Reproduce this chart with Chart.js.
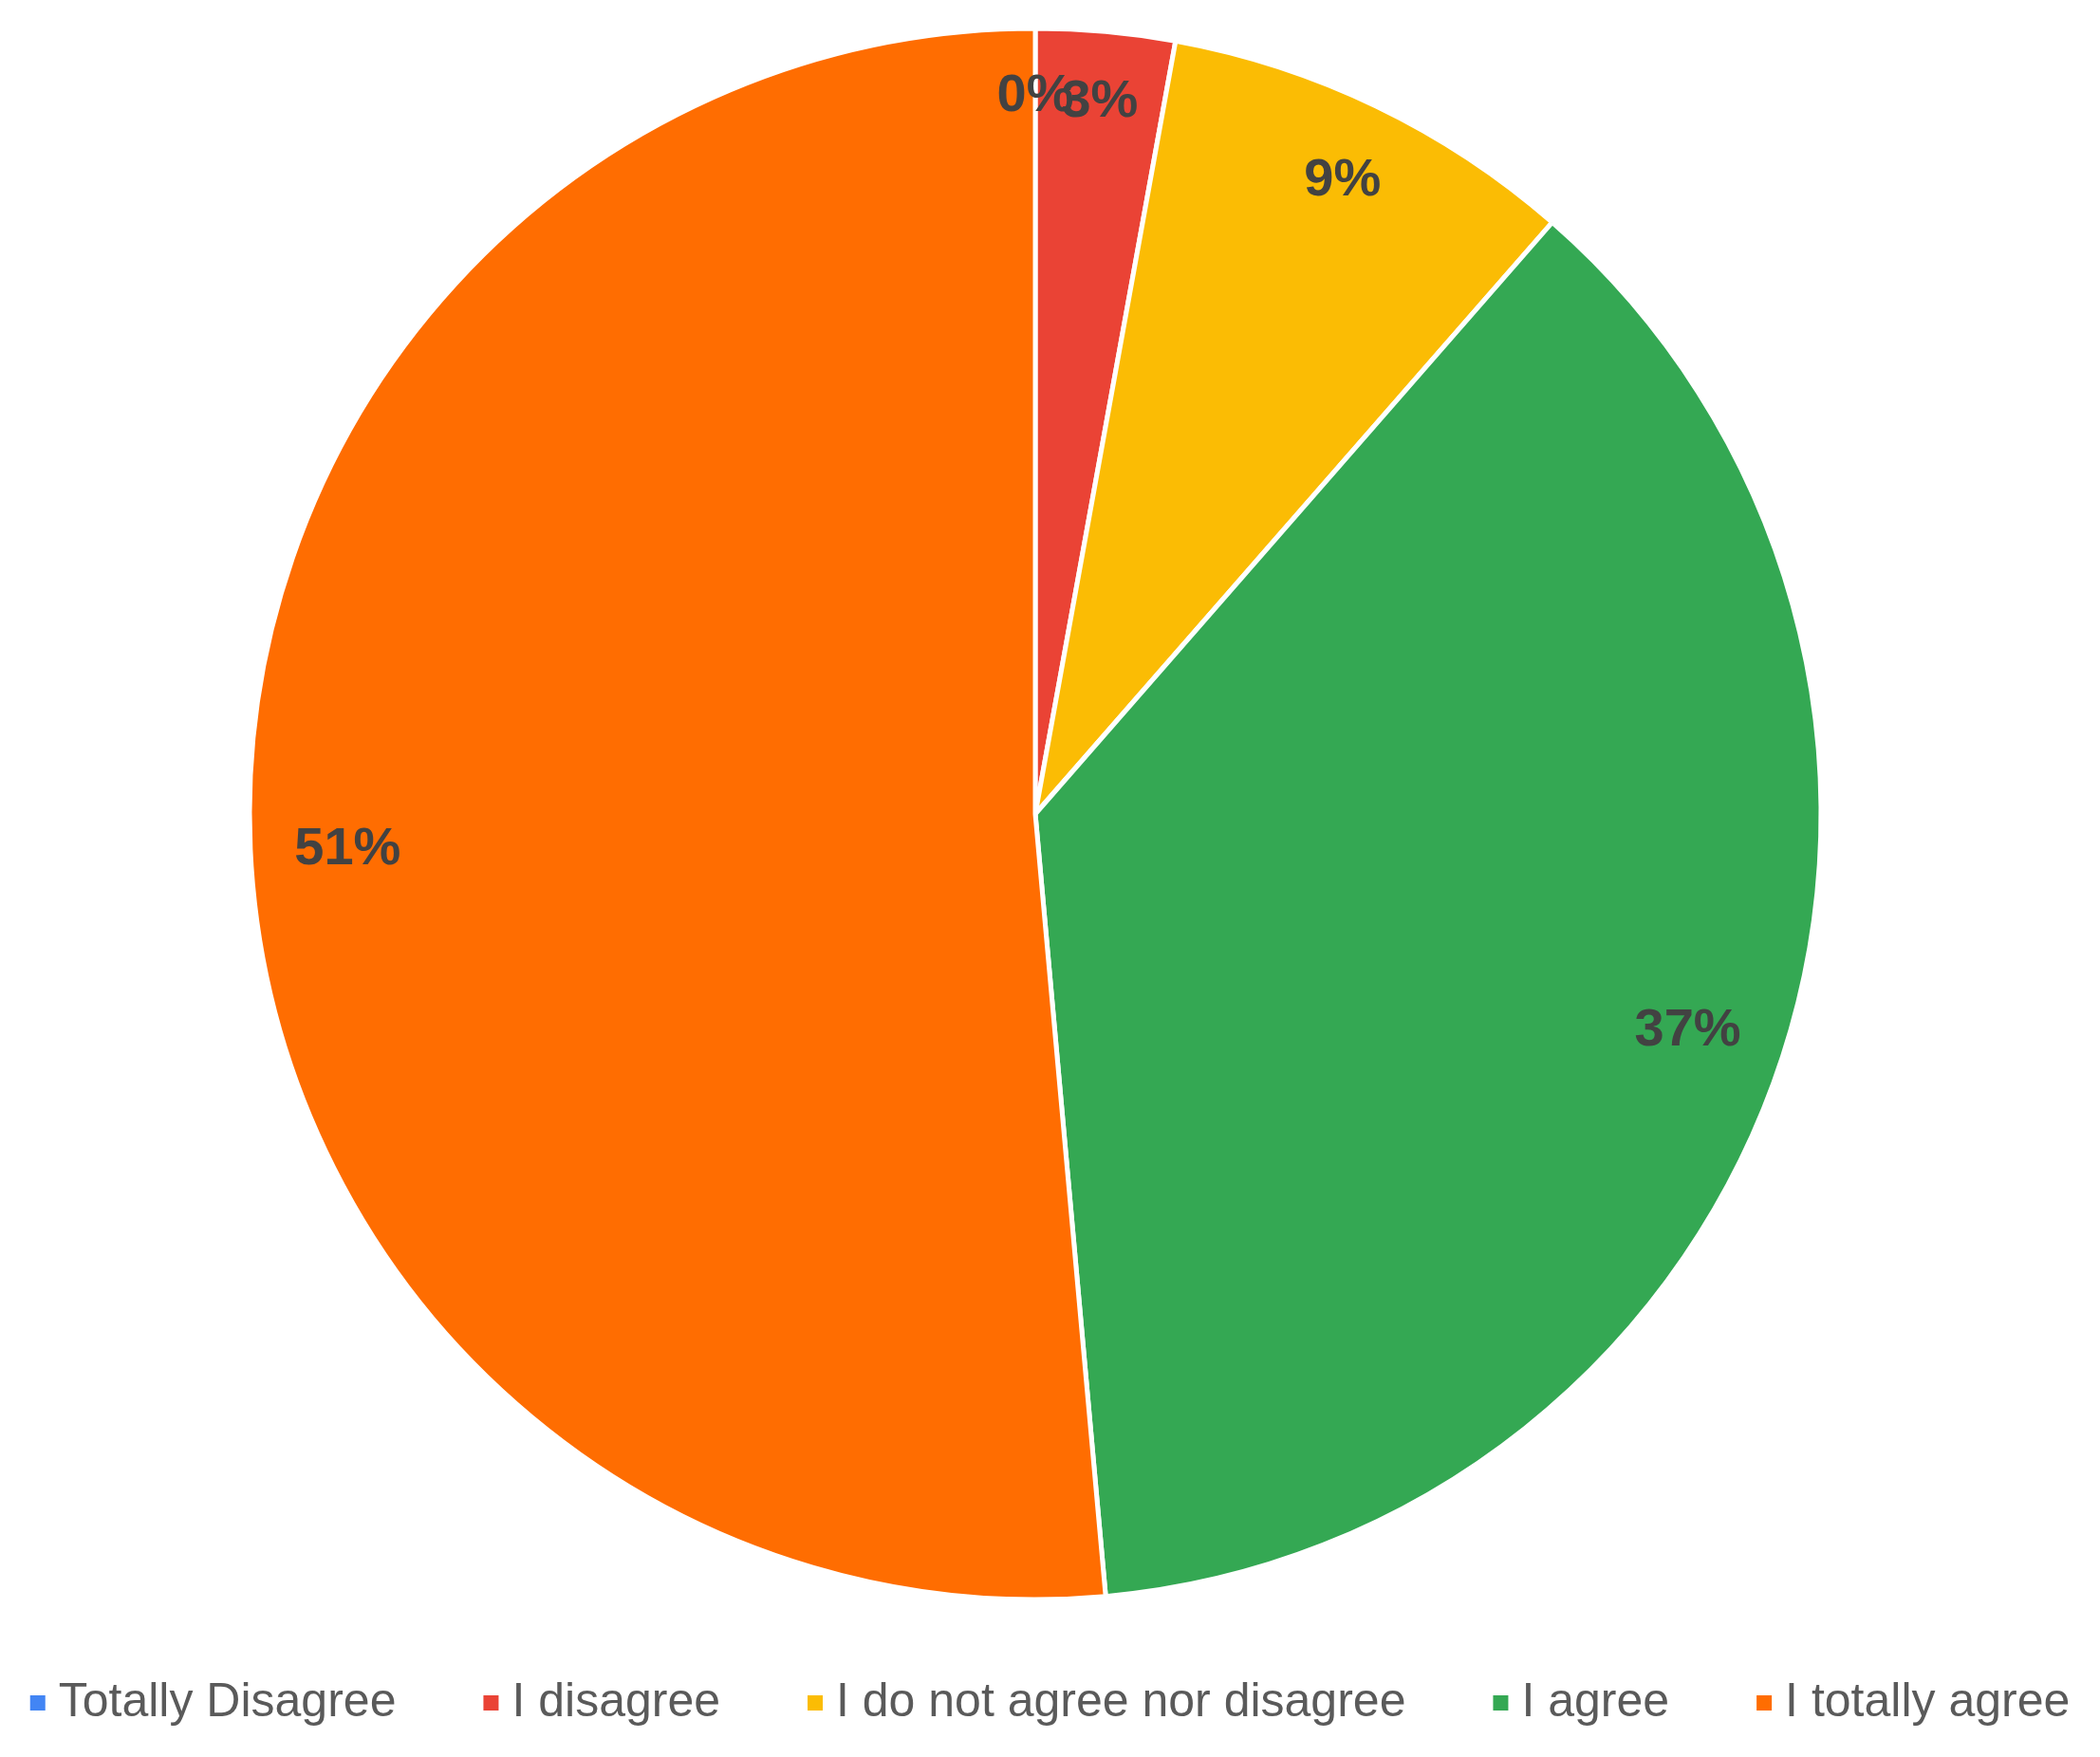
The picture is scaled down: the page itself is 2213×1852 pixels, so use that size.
<!DOCTYPE html>
<html>
<head>
<meta charset="utf-8">
<title>Survey answers</title>
<script src="https://cdn.jsdelivr.net/npm/chart.js@4.4.1/dist/chart.umd.min.js"></script>
<style>
  html, body { margin: 0; padding: 0; background: #fff; }
  #wrap { width: 2213px; height: 1852px; position: relative; }
</style>
</head>
<body>
<div id="wrap"><canvas id="pieChart"></canvas></div>
<script>
const answers = ["Totally Disagree", "I disagree", "I do not agree nor disagree", "I agree", "I totally agree"];
const responses = [0, 1, 3, 13, 18];
const sliceColors = ["#4285f4", "#ea4335", "#fbbc04", "#34a853", "#ff6d01"];

const FONT = "'Liberation Sans', Arial, sans-serif";

// percent labels: pushed out along the slice middle until the far corner
// of the text sits just inside the rim
const percentLabels = {
    id: "percentLabels",
    afterDatasetsDraw(chart) {
        const { ctx } = chart;
        const meta = chart.getDatasetMeta(0);
        const values = chart.data.datasets[0].data;
        const total = values.reduce((a, b) => a + b, 0);
        const size = 56;
        ctx.save();
        ctx.font = `bold ${size}px ${FONT}`;
        ctx.fillStyle = "#424242";
        ctx.textAlign = "center";
        ctx.textBaseline = "alphabetic";
        meta.data.forEach((arc, i) => {
            const { x, y, startAngle, endAngle, outerRadius } =
                arc.getProps(["x", "y", "startAngle", "endAngle", "outerRadius"], true);
            const text = Math.round((values[i] / total) * 100) + "%";
            const w = ctx.measureText(text).width;
            const h = size * 0.72;
            const mid = (startAngle + endAngle) / 2;
            const dx = Math.cos(mid);
            const dy = Math.sin(mid);
            const reach = outerRadius * 0.945;
            const b = Math.abs(dx) * w + Math.abs(dy) * h;
            const c = (w * w + h * h) / 4 - reach * reach;
            const d = (-b + Math.sqrt(b * b - 4 * c)) / 2;
            ctx.fillText(text, x + dx * d, y + dy * d + h / 2);
        });
        ctx.restore();
    },
};

// one-row legend under the pie
const bottomLegend = {
    id: "bottomLegend",
    afterDraw(chart) {
        const { ctx } = chart;
        const size = 50;
        const box = 16;
        const toText = 30;
        const gap = 92;
        ctx.save();
        ctx.font = `${size}px ${FONT}`;
        const widths = chart.data.labels.map((t) => ctx.measureText(t).width);
        const total = widths.reduce((a, b) => a + b, 0) +
            widths.length * toText + (widths.length - 1) * gap;
        let x = (chart.width - total) / 2;
        const y = chart.height - 57;
        ctx.textBaseline = "middle";
        chart.data.labels.forEach((label, i) => {
            ctx.fillStyle = chart.data.datasets[0].backgroundColor[i];
            ctx.fillRect(x, y - box / 2, box, box);
            ctx.fillStyle = "#5a5a5a";
            ctx.fillText(label, x + toText, y);
            x += toText + widths[i] + gap;
        });
        ctx.restore();
    },
};

new Chart(document.getElementById("pieChart"), {
    type: "pie",
    data: {
        labels: answers,
        datasets: [
            {
                data: responses,
                backgroundColor: sliceColors,
                borderColor: "#ffffff",
                borderWidth: 5,
                radius: 828,
                clip: false,
            },
        ],
    },
    options: {
        responsive: true,
        maintainAspectRatio: false,
        animation: false,
        layout: { padding: { top: 32, bottom: 168, left: 0, right: 31 } },
        plugins: {
            legend: { display: false },
            tooltip: { enabled: false },
        },
    },
    plugins: [percentLabels, bottomLegend],
});
</script>
</body>
</html>
